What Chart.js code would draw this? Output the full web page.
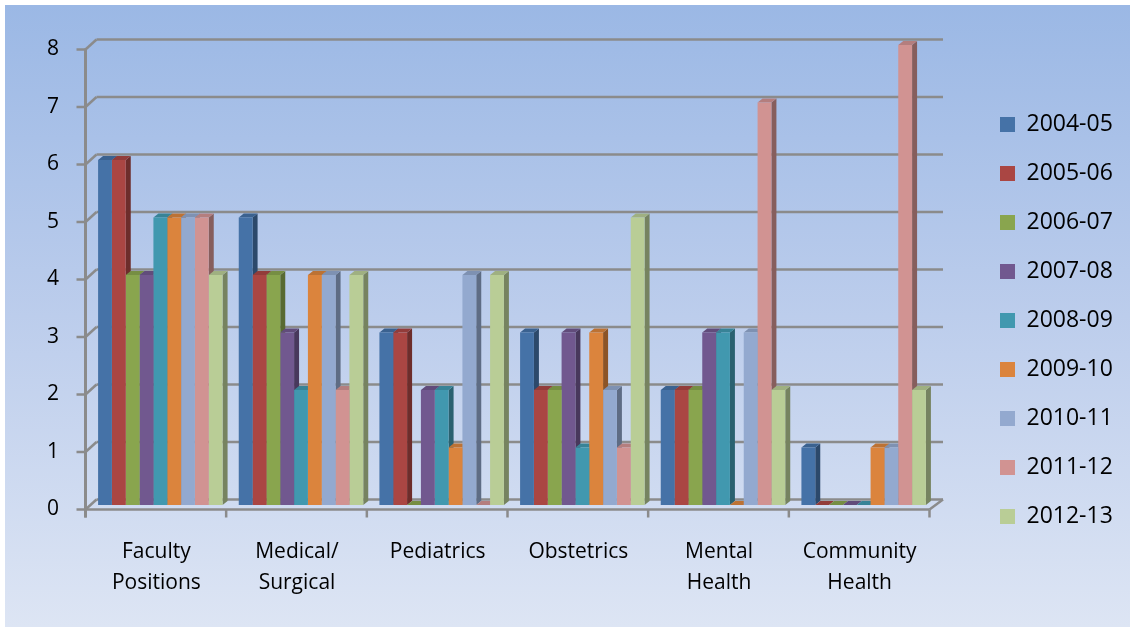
<!DOCTYPE html>
<html>
<head>
<meta charset="utf-8">
<script src="https://cdn.jsdelivr.net/npm/chart.js@4"></script>
<style>
  html, body { margin: 0; padding: 0; background: #ffffff; }
  #wrap { width: 1130px; height: 627px; position: relative; }
  canvas { display: block; }
</style>
</head>
<body>
<div id="wrap"><canvas id="chart" width="1130" height="627"></canvas></div>
<script>
// Categories (x axis)
const categories = [
  ['Faculty', 'Positions'],
  ['Medical/', 'Surgical'],
  'Pediatrics',
  'Obstetrics',
  ['Mental', 'Health'],
  ['Community', 'Health']
];

// Academic years (one series each)
const years = ['2004-05', '2005-06', '2006-07', '2007-08', '2008-09', '2009-10', '2010-11', '2011-12', '2012-13'];

// Values per year, in category order
const y2004_05 = [6, 5, 3, 3, 2, 1];
const y2005_06 = [6, 4, 3, 2, 2, 0];
const y2006_07 = [4, 4, 0, 2, 2, 0];
const y2007_08 = [4, 3, 2, 3, 3, 0];
const y2008_09 = [5, 2, 2, 1, 3, 0];
const y2009_10 = [5, 4, 1, 3, 0, 1];
const y2010_11 = [5, 4, 4, 2, 3, 1];
const y2011_12 = [5, 2, 0, 1, 7, 8];
const y2012_13 = [4, 4, 4, 5, 2, 2];

// Y axis ticks
const yTicks = [0, 1, 2, 3, 4, 5, 6, 7, 8];

const seriesValues = [y2004_05, y2005_06, y2006_07, y2007_08, y2008_09, y2009_10, y2010_11, y2011_12, y2012_13];
const seriesColors = ['#4572A7', '#AA4643', '#89A54E', '#71588F', '#4198AF', '#DB843D', '#93A9CF', '#D19392', '#B9CD96'];

// 3D geometry: bar depth, and wall planes relative to the bar plane
const BAR_DEPTH = { dx: 5, dy: -4 };
const FRONT = { dx: -4.5, dy: 4.5 };
const BACK = { dx: 6.5, dy: -5.5 };
const LINE_COLOR = '#8b8b8b';
const FONT = '"Open Sans", Lato, sans-serif';

function shade(hex, f) {
  const n = parseInt(hex.slice(1), 16);
  const r = Math.round(((n >> 16) & 255) * f);
  const g = Math.round(((n >> 8) & 255) * f);
  const b = Math.round((n & 255) * f);
  return `rgb(${Math.min(r,255)},${Math.min(g,255)},${Math.min(b,255)})`;
}

function line(ctx, x1, y1, x2, y2) {
  ctx.beginPath();
  ctx.moveTo(x1, y1);
  ctx.lineTo(x2, y2);
  ctx.stroke();
}

const backgroundPlugin = {
  id: 'panelBackground',
  beforeDraw(chart) {
    const { ctx, width, height } = chart;
    ctx.save();
    ctx.fillStyle = '#ffffff';
    ctx.fillRect(0, 0, width, height);
    const g = ctx.createLinearGradient(0, 5, 0, height);
    g.addColorStop(0, '#9bb8e5');
    g.addColorStop(0.5, '#bccdec');
    g.addColorStop(1, '#dde5f4');
    ctx.fillStyle = g;
    ctx.fillRect(5, 5, width - 5, height - 5);
    ctx.restore();
  }
};

// Legend sits in its own column to the right of the plot
const legendPlacePlugin = {
  id: 'legendPlace',
  afterLayout(chart) {
    const lg = chart.legend;
    if (!lg) return;
    lg.left = 974;
    lg.right = chart.width;
    lg.top = 87;
    lg.bottom = chart.height;
  }
};

const threeDPlugin = {
  id: 'threeD',
  beforeDatasetsDraw(chart) {
    const { ctx, chartArea: a } = chart;
    const ys = chart.scales.y;
    ctx.save();
    ctx.strokeStyle = LINE_COLOR;
    ctx.lineWidth = 2.5;
    ctx.lineCap = 'butt';
    const fxL = a.left + FRONT.dx;
    const bxL = a.left + BACK.dx;
    const bxR = a.right + 9;
    // back wall grid lines and left wall slants
    yTicks.forEach(v => {
      const py = ys.getPixelForValue(v);
      const fy = py + FRONT.dy;
      const by = py + BACK.dy;
      line(ctx, fxL, fy, bxL, by);
      line(ctx, bxL, by, bxR, by);
    });

    // bar side and top faces, left to right so neighbours overlap correctly
    const metas = chart.getSortedVisibleDatasetMetas();
    for (let j = 0; j < categories.length; j++) {
      metas.forEach(meta => {
        const el = meta.data[j];
        if (!el) return;
        const { x, y, base, width } = el.getProps(['x', 'y', 'base', 'width'], true);
        const l = x - width / 2, r = x + width / 2;
        const c = seriesColors[meta.index];
        ctx.fillStyle = shade(c, 0.64);
        ctx.beginPath();
        ctx.moveTo(r, y);
        ctx.lineTo(r + BAR_DEPTH.dx, y + BAR_DEPTH.dy);
        ctx.lineTo(r + BAR_DEPTH.dx, base + BAR_DEPTH.dy);
        ctx.lineTo(r, base);
        ctx.closePath();
        ctx.fill();
        ctx.fillStyle = shade(c, 0.86);
        ctx.beginPath();
        ctx.moveTo(l, y);
        ctx.lineTo(l + BAR_DEPTH.dx, y + BAR_DEPTH.dy);
        ctx.lineTo(r + BAR_DEPTH.dx, y + BAR_DEPTH.dy);
        ctx.lineTo(r, y);
        ctx.closePath();
        ctx.fill();
      });
    }
    ctx.restore();
  },
  afterDatasetsDraw(chart) {
    const { ctx, chartArea: a } = chart;
    const ys = chart.scales.y;
    const xs = chart.scales.x;
    ctx.save();
    ctx.strokeStyle = LINE_COLOR;
    ctx.lineWidth = 2.5;
    const fxL = a.left + FRONT.dx;
    const fxR = a.right + FRONT.dx;
    const bxR = a.right + 9;
    const f0 = ys.getPixelForValue(0) + FRONT.dy;
    const b0 = ys.getPixelForValue(0) + BACK.dy;
    const fTop = ys.getPixelForValue(yTicks[yTicks.length - 1]) + FRONT.dy;
    // floor front edge and right slant
    line(ctx, fxL, f0, fxR, f0);
    line(ctx, fxR, f0, bxR, b0);
    // value axis with tick marks
    ctx.lineWidth = 3;
    line(ctx, fxL, fTop - 1, fxL, f0 + 8);
    ctx.lineWidth = 2.5;
    yTicks.forEach(v => {
      const fy = ys.getPixelForValue(v) + FRONT.dy;
      line(ctx, fxL - 9, fy, fxL, fy);
    });
    // category boundary ticks
    const catW = xs.getPixelForValue(1) - xs.getPixelForValue(0);
    for (let i = 0; i <= categories.length; i++) {
      const bx = (i < categories.length ? xs.getPixelForValue(i) - catW / 2 : xs.getPixelForValue(i - 1) + catW / 2) + FRONT.dx;
      line(ctx, bx, f0, bx, f0 + 8);
    }
    ctx.restore();
  }
};

const datasets = years.map((name, i) => ({
  label: name,
  data: seriesValues[i],
  backgroundColor: seriesColors[i],
  borderWidth: 0,
  barPercentage: 1.0,
  categoryPercentage: 0.885,
  clip: false
}));

Chart.defaults.font.family = FONT;
Chart.defaults.color = '#000000';

new Chart(document.getElementById('chart'), {
  type: 'bar',
  data: { labels: categories, datasets },
  options: {
    responsive: false,
    animation: false,
    devicePixelRatio: 1,
    layout: { padding: { left: 0, top: 45, right: 76, bottom: 0 } },
    plugins: {
      legend: {
        position: 'right',
        align: 'start',
        maxWidth: 120,
        labels: {
          boxWidth: 15,
          boxHeight: 15,
          padding: 26,
          color: '#000000',
          font: { family: FONT, size: 23 }
        }
      },
      tooltip: { enabled: false },
      title: { display: false }
    },
    scales: {
      x: {
        grid: { display: false, drawTicks: false },
        border: { display: false },
        ticks: {
          padding: 31,
          labelOffset: -4,
          autoSkip: false,
          maxRotation: 0,
          color: '#000000',
          font: { family: FONT, size: 21, lineHeight: 1.48 }
        },
        afterFit(scale) { scale.height = 122; }
      },
      y: {
        min: 0,
        max: 8,
        grid: { display: false, drawTicks: false },
        border: { display: false },
        ticks: {
          stepSize: 1,
          padding: 31,
          labelOffset: 4.5,
          color: '#000000',
          font: { family: FONT, size: 21 }
        },
        afterFit(scale) { scale.width = 90; }
      }
    }
  },
  plugins: [backgroundPlugin, legendPlacePlugin, threeDPlugin]
});
</script>
</body>
</html>
